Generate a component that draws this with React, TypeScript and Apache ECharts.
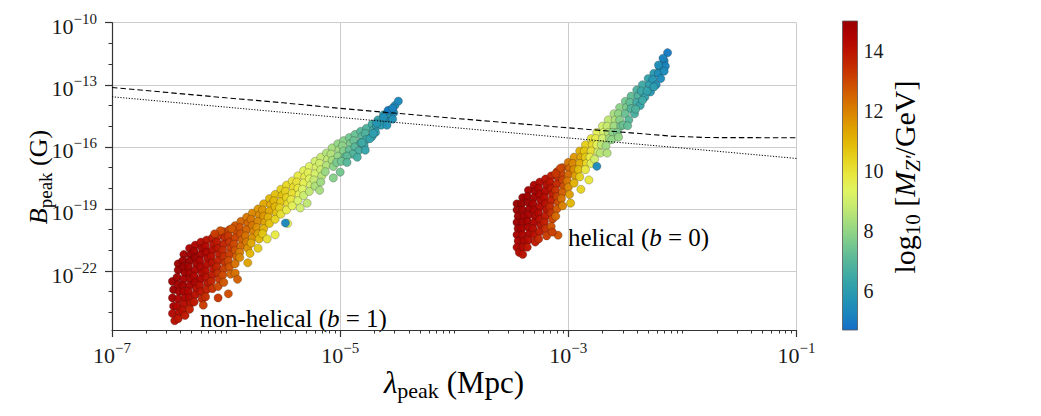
import React, { useEffect, useRef } from "react";
import * as echarts from "echarts";

const FONT = "'Liberation Serif', 'DejaVu Serif', serif";

// Each point: [log10(lambda_peak / Mpc), log10(B_peak / G), log10(M_Z' / GeV)]
const nonHelical: number[][] = [
  [-6.47,-22.5,14.9],[-6.46,-22.9,15.0],[-6.47,-23.3,14.8],[-6.46,-23.7,14.6],[-6.47,-24.05,14.4],[-6.45,-24.4,14.2],
  [-6.42,-21.65,14.9],[-6.42,-21.95,15.0],[-6.43,-22.3,14.9],[-6.42,-22.65,14.8],[-6.41,-23.0,14.7],[-6.42,-23.35,14.6],[-6.43,-23.7,14.4],[-6.41,-24.0,14.3],[-6.42,-24.3,14.0],
  [-6.37,-21.2,14.8],[-6.38,-21.5,15.0],[-6.37,-21.8,14.9],[-6.36,-22.1,14.8],[-6.37,-22.4,14.7],[-6.38,-22.7,14.8],[-6.37,-23.0,14.6],[-6.36,-23.3,14.5],[-6.37,-23.6,14.3],[-6.38,-23.9,14.2],[-6.36,-24.15,13.9],
  [-6.32,-20.9,14.6],[-6.31,-21.2,14.9],[-6.32,-21.5,15.0],[-6.33,-21.8,14.8],[-6.32,-22.1,14.7],[-6.31,-22.4,14.6],[-6.32,-22.7,14.7],[-6.33,-23.0,14.5],[-6.32,-23.3,14.4],[-6.31,-23.55,14.1],[-6.32,-23.85,13.8],
  [-6.27,-20.75,14.5],[-6.28,-21.05,14.8],[-6.27,-21.35,14.9],[-6.26,-21.65,14.7],[-6.27,-21.95,14.6],[-6.28,-22.25,14.5],[-6.27,-22.55,14.6],[-6.26,-22.85,14.3],[-6.27,-23.15,14.2],[-6.28,-23.5,13.9],
  [-6.22,-20.6,14.3],[-6.21,-20.9,14.6],[-6.22,-21.2,14.7],[-6.23,-21.5,14.6],[-6.22,-21.8,14.5],[-6.21,-22.1,14.4],[-6.22,-22.4,14.5],[-6.23,-22.7,14.2],[-6.22,-23.0,14.0],[-6.21,-23.35,13.7],
  [-6.17,-20.5,14.1],[-6.18,-20.8,14.4],[-6.17,-21.1,14.5],[-6.16,-21.4,14.4],[-6.17,-21.7,14.3],[-6.18,-22.0,14.3],[-6.17,-22.3,14.1],[-6.16,-22.6,14.0],[-6.17,-22.9,13.8],[-6.18,-23.25,13.5],
  [-6.12,-20.4,13.9],[-6.11,-20.7,14.2],[-6.12,-21.0,14.3],[-6.13,-21.3,14.2],[-6.12,-21.6,14.1],[-6.11,-21.9,14.0],[-6.12,-22.2,13.9],[-6.13,-22.5,13.7],[-6.12,-22.85,13.4],
  [-6.07,-20.3,13.6],[-6.08,-20.6,13.9],[-6.07,-20.9,14.0],[-6.06,-21.2,13.9],[-6.07,-21.5,13.8],[-6.08,-21.8,13.7],[-6.07,-22.1,13.5],[-6.06,-22.4,13.3],[-6.07,-22.75,13.0],
  [-6.02,-20.1,13.3],[-6.01,-20.4,13.6],[-6.02,-20.7,13.7],[-6.03,-21.0,13.6],[-6.02,-21.3,13.5],[-6.01,-21.6,13.4],[-6.02,-21.9,13.2],[-6.03,-22.2,13.0],[-6.02,-22.55,12.7],
  [-5.97,-20.0,13.0],[-5.98,-20.3,13.3],[-5.97,-20.6,13.4],[-5.96,-20.9,13.3],[-5.97,-21.2,13.2],[-5.98,-21.5,13.0],[-5.97,-21.8,12.8],[-5.96,-22.15,12.5],
  [-5.92,-19.8,12.8],[-5.91,-20.1,13.0],[-5.92,-20.4,13.1],[-5.93,-20.7,13.0],[-5.92,-21.0,12.8],[-5.91,-21.3,12.6],[-5.92,-21.65,12.3],
  [-5.87,-19.6,12.5],[-5.88,-19.9,12.8],[-5.87,-20.2,12.8],[-5.86,-20.5,12.6],[-5.87,-20.8,12.4],[-5.88,-21.1,12.1],
  [-5.82,-19.4,12.2],[-5.81,-19.7,12.5],[-5.82,-20.0,12.5],[-5.83,-20.3,12.3],[-5.82,-20.6,12.1],[-5.81,-20.9,11.7],
  [-5.77,-19.2,11.9],[-5.78,-19.5,12.2],[-5.77,-19.8,12.2],[-5.76,-20.1,12.0],[-5.77,-20.4,11.7],[-5.78,-20.65,11.3],
  [-5.72,-19.0,11.6],[-5.71,-19.3,11.9],[-5.72,-19.6,11.9],[-5.73,-19.9,11.7],[-5.72,-20.2,11.4],[-5.71,-20.45,11.0],
  [-5.67,-18.75,11.3],[-5.68,-19.05,11.6],[-5.67,-19.35,11.6],[-5.66,-19.65,11.4],[-5.67,-19.95,11.1],[-5.68,-20.2,10.7],
  [-5.62,-18.5,11.0],[-5.61,-18.8,11.3],[-5.62,-19.1,11.3],[-5.63,-19.4,11.1],[-5.62,-19.7,10.8],
  [-5.57,-18.3,10.8],[-5.58,-18.6,11.0],[-5.57,-18.9,11.0],[-5.56,-19.2,10.8],[-5.57,-19.5,10.4],
  [-5.52,-18.05,10.5],[-5.51,-18.35,10.8],[-5.52,-18.65,10.7],[-5.53,-18.95,10.5],[-5.52,-19.25,10.1],
  [-5.47,-17.85,10.3],[-5.48,-18.15,10.5],[-5.47,-18.45,10.4],[-5.46,-18.75,10.2],[-5.47,-19.05,9.8],
  [-5.42,-17.65,10.0],[-5.41,-17.95,10.2],[-5.42,-18.25,10.1],[-5.43,-18.55,9.9],[-5.42,-18.85,9.5],
  [-5.37,-17.4,9.8],[-5.38,-17.7,10.0],[-5.37,-18.0,9.9],[-5.36,-18.3,9.6],[-5.37,-18.6,9.2],
  [-5.32,-17.15,9.5],[-5.31,-17.45,9.7],[-5.32,-17.75,9.6],[-5.33,-18.05,9.3],[-5.32,-18.35,8.9],
  [-5.27,-16.95,9.3],[-5.28,-17.25,9.5],[-5.27,-17.55,9.4],[-5.26,-17.85,9.1],[-5.27,-18.15,8.7],
  [-5.22,-16.7,9.0],[-5.21,-17.0,9.2],[-5.22,-17.3,9.1],[-5.23,-17.6,8.8],[-5.22,-17.9,8.4],
  [-5.17,-16.5,8.8],[-5.18,-16.8,9.0],[-5.17,-17.1,8.9],[-5.16,-17.4,8.6],[-5.17,-17.7,8.2],
  [-5.12,-16.3,8.5],[-5.11,-16.6,8.7],[-5.12,-16.9,8.5],[-5.13,-17.2,8.1],
  [-5.07,-16.05,8.3],[-5.08,-16.35,8.5],[-5.07,-16.65,8.3],[-5.06,-16.95,7.9],
  [-5.02,-15.85,8.0],[-5.01,-16.15,8.2],[-5.02,-16.45,8.0],[-5.03,-16.75,7.6],
  [-4.97,-15.7,7.8],[-4.98,-15.95,7.9],[-4.97,-16.2,7.7],[-4.96,-16.5,7.3],
  [-4.92,-15.55,7.5],[-4.91,-15.85,7.6],[-4.92,-16.15,7.2],
  [-4.87,-15.4,7.3],[-4.88,-15.7,7.3],[-4.87,-16.0,7.0],
  [-4.82,-15.25,7.0],[-4.81,-15.5,7.0],[-4.82,-15.8,6.7],
  [-4.77,-15.1,6.8],[-4.78,-15.35,6.8],[-4.77,-15.65,6.5],
  [-4.72,-14.9,6.5],[-4.71,-15.2,6.5],[-4.72,-15.5,6.2],
  [-4.67,-14.7,6.3],[-4.68,-15.0,6.2],
  [-4.62,-14.45,6.0],[-4.61,-14.8,5.9],
  [-4.57,-14.25,5.8],[-4.56,-14.6,5.6],
  [-4.52,-14.0,5.6],[-4.53,-14.35,5.4],
  [-4.64,-14.95,5.9],[-4.59,-14.95,5.7],[-4.69,-15.3,6.0],[-4.74,-15.6,6.2],[-4.79,-15.95,6.4],[-4.84,-16.2,6.7],
  [-4.89,-16.35,6.9],[-4.59,-14.4,5.9],[-4.94,-16.45,7.1],[-4.99,-16.7,7.4],
  [-6.2,-23.65,13.2],[-6.07,-23.3,13.3],[-5.98,-23.1,12.9],[-5.92,-22.1,12.3],[-5.9,-22.4,12.6],[-5.88,-21.35,11.9],
  [-5.81,-21.6,11.4],[-5.79,-21.15,11.0],[-5.72,-20.9,10.6],[-5.64,-20.45,10.1],[-5.57,-20.25,9.8],[-5.46,-19.7,9.4],
  [-5.48,-19.68,5.3],[-5.35,-18.95,9.0],[-5.29,-18.72,8.7],[-5.18,-18.1,8.3],[-5.06,-17.5,7.8],[-5.0,-17.22,7.5],
  [-4.94,-16.75,7.0],[-4.85,-16.5,6.6],[-4.78,-16.16,6.3],[-4.81,-15.8,6.5],[-4.71,-15.35,6.1],[-4.68,-14.86,5.8],
  [-4.62,-14.57,5.6],[-4.58,-14.23,5.0],[-4.54,-14.13,5.2],[-4.54,-14.66,5.6],[-4.49,-13.79,5.3],
  [-6.05,-20.05,12.9],[-5.95,-19.95,12.7],[-6.1,-20.2,13.2]
];

const helical: number[][] = [
  [-3.45,-18.75,15.0],[-3.45,-19.05,15.0],[-3.44,-19.35,14.9],[-3.45,-19.65,14.9],[-3.44,-19.95,14.8],[-3.45,-20.25,14.7],[-3.44,-20.55,14.6],[-3.45,-20.85,14.5],[-3.43,-21.1,14.3],
  [-3.40,-18.45,14.9],[-3.41,-18.75,15.0],[-3.40,-19.05,14.9],[-3.39,-19.35,14.8],[-3.40,-19.65,14.8],[-3.41,-19.95,14.7],[-3.40,-20.25,14.6],[-3.39,-20.55,14.5],[-3.40,-20.85,14.4],[-3.40,-21.2,14.1],
  [-3.35,-18.1,14.8],[-3.36,-18.4,14.9],[-3.35,-18.7,14.9],[-3.34,-19.0,14.8],[-3.35,-19.3,14.7],[-3.36,-19.6,14.7],[-3.35,-19.9,14.6],[-3.34,-20.2,14.5],[-3.35,-20.5,14.3],[-3.36,-20.85,14.0],
  [-3.30,-17.85,14.6],[-3.29,-18.15,14.8],[-3.30,-18.45,14.8],[-3.31,-18.75,14.7],[-3.30,-19.05,14.6],[-3.29,-19.35,14.6],[-3.30,-19.65,14.5],[-3.31,-19.95,14.3],[-3.30,-20.25,14.2],[-3.29,-20.6,13.9],
  [-3.25,-17.7,14.4],[-3.26,-18.0,14.6],[-3.25,-18.3,14.6],[-3.24,-18.6,14.5],[-3.25,-18.9,14.4],[-3.26,-19.2,14.4],[-3.25,-19.5,14.2],[-3.24,-19.8,14.1],[-3.25,-20.1,13.9],[-3.26,-20.45,13.6],
  [-3.20,-17.55,14.1],[-3.19,-17.85,14.3],[-3.20,-18.15,14.4],[-3.21,-18.45,14.3],[-3.20,-18.75,14.2],[-3.19,-19.05,14.1],[-3.20,-19.35,13.9],[-3.21,-19.65,13.8],[-3.20,-19.95,13.5],[-3.19,-20.3,13.2],
  [-3.15,-17.4,13.8],[-3.16,-17.7,14.0],[-3.15,-18.0,14.0],[-3.14,-18.3,13.9],[-3.15,-18.6,13.8],[-3.16,-18.9,13.6],[-3.15,-19.2,13.4],[-3.14,-19.5,13.1],[-3.15,-19.85,12.8],
  [-3.10,-17.2,13.3],[-3.09,-17.5,13.6],[-3.10,-17.8,13.6],[-3.11,-18.1,13.4],[-3.10,-18.4,13.2],[-3.09,-18.7,13.0],[-3.10,-19.0,12.7],[-3.11,-19.35,12.4],
  [-3.05,-17.0,12.8],[-3.06,-17.3,13.1],[-3.05,-17.6,13.1],[-3.04,-17.9,12.9],[-3.05,-18.2,12.6],[-3.06,-18.5,12.3],[-3.05,-18.85,12.0],
  [-3.00,-16.75,12.2],[-2.99,-17.05,12.5],[-3.00,-17.35,12.4],[-3.01,-17.65,12.2],[-3.00,-17.95,11.9],[-2.99,-18.3,11.5],
  [-2.95,-16.5,11.6],[-2.96,-16.8,11.9],[-2.95,-17.1,11.8],[-2.94,-17.4,11.5],[-2.95,-17.75,11.1],
  [-2.90,-16.2,11.1],[-2.89,-16.5,11.3],[-2.90,-16.8,11.2],[-2.91,-17.1,10.9],[-2.90,-17.45,10.5],
  [-2.85,-15.9,10.5],[-2.86,-16.2,10.7],[-2.85,-16.5,10.6],[-2.84,-16.8,10.3],[-2.85,-17.1,9.9],
  [-2.80,-15.6,10.0],[-2.79,-15.9,10.2],[-2.80,-16.2,10.1],[-2.81,-16.5,9.8],[-2.80,-16.8,9.4],
  [-2.75,-15.3,9.5],[-2.76,-15.6,9.7],[-2.75,-15.9,9.5],[-2.74,-16.25,9.1],
  [-2.70,-15.0,9.1],[-2.69,-15.3,9.2],[-2.70,-15.6,9.0],[-2.71,-15.9,8.7],
  [-2.65,-14.7,8.7],[-2.66,-15.0,8.8],[-2.65,-15.3,8.6],[-2.64,-15.6,8.3],
  [-2.60,-14.4,8.3],[-2.59,-14.7,8.4],[-2.60,-15.0,8.2],[-2.61,-15.3,7.9],
  [-2.55,-14.1,7.9],[-2.56,-14.4,8.0],[-2.55,-14.7,7.8],[-2.54,-15.0,7.5],
  [-2.50,-13.8,7.5],[-2.49,-14.1,7.6],[-2.50,-14.4,7.3],
  [-2.45,-13.55,7.2],[-2.46,-13.85,7.2],[-2.45,-14.15,6.9],
  [-2.40,-13.25,6.8],[-2.39,-13.55,6.8],[-2.40,-13.85,6.5],
  [-2.35,-13.0,6.5],[-2.36,-13.3,6.4],
  [-2.30,-12.7,6.2],[-2.29,-13.0,6.1],
  [-2.25,-12.45,5.9],[-2.26,-12.75,5.8],
  [-2.20,-12.15,5.6],[-2.21,-12.45,5.5],
  [-2.16,-11.85,5.3],[-2.15,-12.1,5.2],
  [-2.13,-11.45,5.0],
  [-2.47,-14.7,7.0],[-2.42,-14.4,6.7],[-2.37,-14.0,6.3],[-2.33,-13.6,6.1],[-2.28,-13.35,5.9],[-2.23,-13.0,5.6],
  [-2.19,-12.7,5.4],[-2.62,-15.65,8.0],[-2.57,-15.3,7.6],[-2.52,-14.95,7.3],[-2.72,-16.3,8.6],[-2.67,-15.95,8.2],[-2.77,-16.6,9.0],
  [-2.98,-18.72,11.0],[-2.89,-18.05,10.4],[-2.82,-17.6,9.9],[-2.75,-16.94,5.4],[-2.66,-16.3,8.5],[-2.56,-15.53,8.0],
  [-2.48,-14.98,7.2],[-2.41,-14.18,6.8],[-2.35,-13.75,6.5],[-2.31,-13.3,6.2],[-2.25,-13.1,6.0],[-3.09,-20.27,12.8],
  [-3.14,-20.12,13.2],[-3.07,-17.03,13.0],[-3.11,-17.3,13.3],[-2.17,-11.72,5.2],[-2.21,-12.05,5.5],[-2.16,-12.34,5.4]
];

// Constraint curves: log10(lambda) vs log10(B)
const dashedX = [-7, -6.5, -6, -5.5, -5, -4.5, -4, -3.5, -3, -2.5, -2.1, -1.8, -1];
const dashedY = [-13.13, -13.38, -13.63, -13.87, -14.14, -14.38, -14.62, -14.85, -15.08, -15.3, -15.48, -15.55, -15.56];
const dottedX = [-7, -6, -5, -4, -3, -2, -1];
const dottedY = [-13.58, -14.08, -14.58, -15.07, -15.57, -16.06, -16.56];

// Axis ticks (exponents)
const X_MIN = -7, X_MAX = -1;
const Y_MIN = -24.85, Y_MAX = -10;
const xMajor = [-7, -5, -3, -1];
const yMajor = [-22, -19, -16, -13, -10];
const yDecades = [-24, -23, -22, -21, -20, -19, -18, -17, -16, -15, -14, -13, -12, -11, -10];
const cbTicks = [6, 8, 10, 12, 14];
const CB_MIN = 4.7, CB_MAX = 15;
const cmap = [
  "#146ec8", "#1a84be", "#2394b4", "#33a3aa", "#4bb09f", "#66bf95", "#85cf8a",
  "#a6dd7e", "#c6ea70", "#dff462", "#e8e840", "#e6d420", "#e2bc08", "#dfa200",
  "#da8600", "#d46800", "#cd4a00", "#c42e00", "#bc1400", "#b00400", "#9a0000"
];

const xMinor: number[] = [];
for (let d = X_MIN; d < X_MAX; d++) {
  for (let k = 1; k <= 9; k++) xMinor.push(d + Math.log10(k));
}
xMinor.push(X_MAX);

const TXT = "#1a1a1a";
const AX = "#333333";

const tickRich = {
  b: { fontSize: 22, fontFamily: FONT, color: TXT, lineHeight: 26, verticalAlign: "bottom" },
  s: { fontSize: 15, fontFamily: FONT, color: TXT, lineHeight: 14, verticalAlign: "top" },
};
const powLabel = (v: number) => `{b|10}{s|\u2212${Math.round(-v)}}`;

const titleRich = (main: number, sub: number) => ({
  r: { fontSize: main, fontFamily: FONT, color: TXT, lineHeight: main + 8 },
  i: { fontSize: main, fontFamily: FONT, fontStyle: "italic", color: TXT, lineHeight: main + 8 },
  s: { fontSize: sub, fontFamily: FONT, color: TXT, lineHeight: sub, verticalAlign: "bottom" },
  si: { fontSize: sub, fontFamily: FONT, fontStyle: "italic", color: TXT, lineHeight: sub, verticalAlign: "bottom" },
});

const GRID = { left: 112, top: 22.7, width: 684.5, height: 307.3 };
const CB = { left: 842.5, top: 21, width: 15, height: 309 };

function buildOption() {
  const stops = cmap.map((c, i) => ({ offset: 1 - i / (cmap.length - 1), color: c })).reverse();
  const scatterStyle = {
    borderColor: "rgba(25,20,15,0.55)",
    borderWidth: 0.45,
    opacity: 0.97,
  };
  return {
    animation: false,
    backgroundColor: "#ffffff",
    grid: [
      { ...GRID },
      { ...CB },
    ],
    visualMap: {
      type: "continuous",
      show: false,
      min: CB_MIN,
      max: CB_MAX,
      dimension: 2,
      seriesIndex: [0, 1],
      inRange: { color: cmap },
    },
    xAxis: [
      {
        type: "value", gridIndex: 0, min: X_MIN, max: X_MAX, position: "bottom",
        axisLine: { show: true, onZero: false, lineStyle: { color: AX, width: 1.2 } },
        axisTick: { show: true, customValues: xMajor, length: 7, lineStyle: { color: AX, width: 1.2 } },
        axisLabel: { customValues: xMajor, formatter: powLabel, rich: tickRich, margin: 10 },
        splitLine: { show: true, lineStyle: { color: "#cccccc", width: 1 } },
      },
      {
        type: "value", gridIndex: 0, min: X_MIN, max: X_MAX, position: "bottom",
        axisLine: { show: false, onZero: false },
        axisTick: { show: true, customValues: xMinor, length: 3.5, lineStyle: { color: AX, width: 1 } },
        axisLabel: { show: false },
        splitLine: { show: false },
      },
      { type: "value", gridIndex: 1, min: 0, max: 1, show: false },
    ],
    yAxis: [
      {
        type: "value", gridIndex: 0, min: Y_MIN, max: Y_MAX, position: "left",
        axisLine: { show: true, onZero: false, lineStyle: { color: AX, width: 1.2 } },
        axisTick: { show: true, customValues: yMajor, length: 7, lineStyle: { color: AX, width: 1.2 } },
        axisLabel: { customValues: yMajor, formatter: powLabel, rich: tickRich, margin: 15, padding: [4, 0, 0, 0] },
        splitLine: { show: true, lineStyle: { color: "#cccccc", width: 1 } },
      },
      {
        type: "value", gridIndex: 0, min: Y_MIN, max: Y_MAX, position: "left",
        axisLine: { show: false, onZero: false },
        axisTick: { show: true, customValues: yDecades, length: 3.5, lineStyle: { color: AX, width: 1 } },
        axisLabel: { show: false },
        splitLine: { show: false },
      },
      {
        type: "value", gridIndex: 1, min: CB_MIN, max: CB_MAX, position: "right",
        axisLine: { show: false },
        axisTick: { show: true, customValues: cbTicks, length: 4, lineStyle: { color: AX, width: 1 } },
        axisLabel: { customValues: cbTicks, fontSize: 20, fontFamily: FONT, color: TXT, margin: 6 },
        splitLine: { show: false },
      },
    ],
    series: [
      { type: "scatter", name: "non-helical", xAxisIndex: 0, yAxisIndex: 0, data: nonHelical, symbolSize: 8.2, itemStyle: scatterStyle, z: 3 },
      { type: "scatter", name: "helical", xAxisIndex: 0, yAxisIndex: 0, data: helical, symbolSize: 8.2, itemStyle: scatterStyle, z: 3 },
      {
        type: "line", xAxisIndex: 0, yAxisIndex: 0, data: dashedX.map((x, i) => [x, dashedY[i]]),
        symbol: "none", lineStyle: { color: "#000", width: 1.1, type: [5.5, 3] }, z: 5,
      },
      {
        type: "line", xAxisIndex: 0, yAxisIndex: 0, data: dottedX.map((x, i) => [x, dottedY[i]]),
        symbol: "none", lineStyle: { color: "#000", width: 1, type: [1.2, 1.6] }, z: 5,
      },
    ],
    graphic: [
      {
        type: "rect", z: 10,
        shape: { x: CB.left, y: CB.top, width: CB.width, height: CB.height },
        style: { fill: { type: "linear", x: 0, y: 0, x2: 0, y2: 1, colorStops: stops }, stroke: "#555", lineWidth: 0.8 },
      },
      {
        type: "text", x: 38, y: 177, rotation: Math.PI / 2,
        style: { text: "{i|B}{s|peak}{r| (G)}", rich: titleRich(26, 19), align: "center", verticalAlign: "middle" },
      },
      {
        type: "text", x: 454, y: 382,
        style: { text: "{i|\u03bb}{s|peak}{r| (Mpc)}", rich: titleRich(31, 22), align: "center", verticalAlign: "middle" },
      },
      {
        type: "text", x: 904, y: 177, rotation: Math.PI / 2,
        style: { text: "{r|log}{s|10}{r| [}{i|M}{si|Z\u2032}{r|/GeV]}", rich: titleRich(30, 21), align: "center", verticalAlign: "middle" },
      },
      {
        type: "text", x: 200, y: 318.5,
        style: { text: "{r|non-helical (}{i|b}{r| = 1)}", rich: titleRich(25, 18), align: "left", verticalAlign: "middle" },
      },
      {
        type: "text", x: 568, y: 237,
        style: { text: "{r|helical (}{i|b}{r| = 0)}", rich: titleRich(25, 18), align: "left", verticalAlign: "middle" },
      },
    ],
  };
}

export default function App() {
  const ref = useRef<HTMLDivElement>(null);
  useEffect(() => {
    if (!ref.current) return;
    const chart = echarts.init(ref.current, null, { renderer: "svg" });
    chart.setOption(buildOption() as any);
    return () => chart.dispose();
  }, []);
  return (
    <div
      ref={ref}
      style={{ position: "fixed", left: 0, top: 0, width: 1041, height: 416, background: "#fff" }}
    />
  );
}
